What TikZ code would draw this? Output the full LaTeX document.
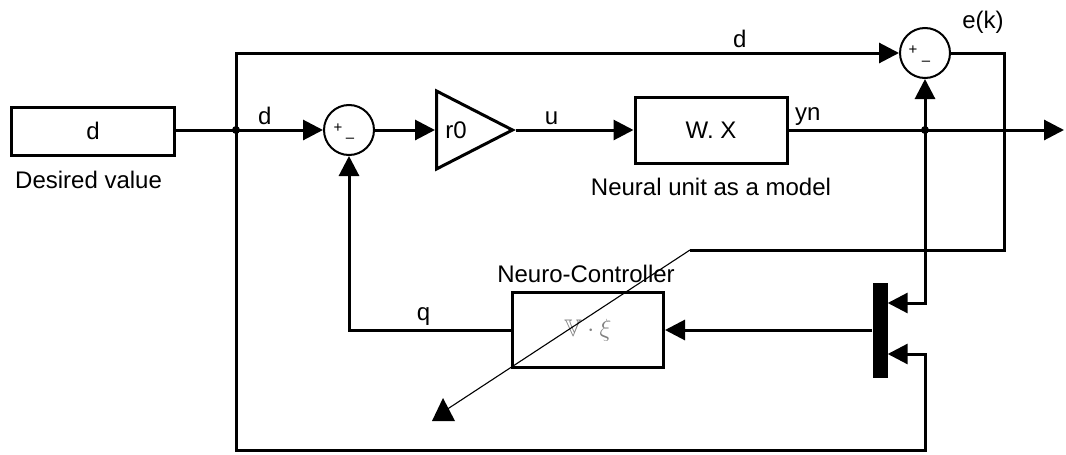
\documentclass[tikz,border=0pt]{standalone}
\usepackage{amssymb}
\usepackage{fontspec}
\setmainfont{Liberation Sans}
\usetikzlibrary{shapes.geometric, arrows.meta, positioning}

\begin{document}
\begin{tikzpicture}[
    x=1pt, y=-1pt,
    every node/.style={font=\fontsize{24}{28}\selectfont},
    block/.style={draw, rectangle, line width=3pt, inner sep=0pt},
    sumnode/.style={draw, circle, line width=2pt, minimum size=50pt, inner sep=0pt},
    sign/.style={font=\fontsize{15}{15}\selectfont, inner sep=0pt},
    wire/.style={line width=3pt},
    arrow/.style={wire, -{Triangle[length=20pt, width=20pt]}},
    dot/.style={circle, fill, inner sep=0pt, minimum size=8pt}
]
\useasboundingbox (0,0) rectangle (1066,455);

\node (dbox) [block, minimum width=163pt, minimum height=48pt] at (93,131) {d};
\node (desired) [anchor=base west, inner sep=0pt] at (15,188) {Desired value};
\coordinate (jd) at (236,130);
\node (sA) [sumnode] at (349,130) {};
\node [sign] at ([shift={(-11,-2)}]sA.center) {+};
\node [sign] at ([shift={(1,10)}]sA.center) {--};
\node (gain) [draw, isosceles triangle, isosceles triangle stretches, minimum width=78pt, minimum height=76pt, inner sep=0pt, line width=3pt, anchor=west] at (435,130) {};
\node (gainlbl) at (456,130) {r0};
\node (model) [block, minimum width=152pt, minimum height=66pt] at (711,130) {W. X};
\node (modellbl) [anchor=base, inner sep=0pt] at (711,195) {Neural unit as a model};
\coordinate (jy) at (925,130);
\coordinate (out) at (1064,130);
\node (sB) [sumnode] at (925,53) {};
\node [sign] at ([shift={(-12,-3)}]sB.center) {+};
\node [sign] at ([shift={(1,10)}]sB.center) {--};
\node (ek) at (983,22) {e(k)};
\node (mux) [fill, minimum width=15pt, minimum height=95pt, inner sep=0pt] at (880,330) {};
\node (ctrl) [block, minimum width=151pt, minimum height=75pt, text=gray] at (588,330) {$\mathbb{V}\cdot\xi$};
\node (ctrllbl) [anchor=base, inner sep=0pt] at (586,282) {Neuro-Controller};
\coordinate (ebend) at (1004,250);
\coordinate (adj) at (690,250);
\coordinate (adjtip) at (446,410);
\coordinate (fb) at (925,450);

\draw [wire] (dbox.east |- jd) -- (jd);
\draw [arrow] (jd) -- node[pos=0.33, above] {d} (sA);
\draw [arrow] (sA) -- (gain.west);
\draw [arrow] (gain.apex) -- node[pos=0.3, above] {u} (model);
\draw [arrow] (model) -- node[pos=0.07, above] {yn} (out);
\draw [arrow] (jd) |- node[pos=0.88, above] {d} (sB);
\draw [arrow] (jy) -- (sB);
\draw [wire] (sB.east) -| (ebend) -- (adj);
\draw [line width=1.1pt] (adj) -- (adjtip);
\fill (adjtip) +(-3,-12) -- +(9,11) -- +(-14,11) -- cycle;
\draw [arrow] (jy) |- ([yshift=27pt]mux.east);
\draw [arrow] (jd) |- (fb) |- ([yshift=-24pt]mux.east);
\draw [arrow] (mux) -- (ctrl);
\draw [arrow] (ctrl.west) -| node[pos=0.27, above] {q} (sA);
\node [dot] at (jd) {};
\node [dot] at (jy) {};

\end{tikzpicture}
\end{document}
